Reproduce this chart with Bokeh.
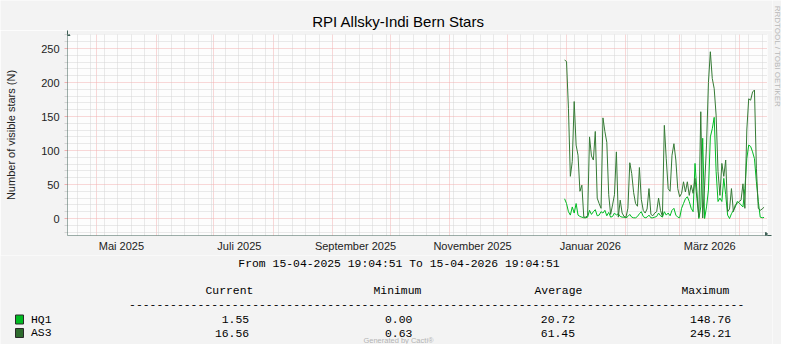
import math
import pandas as pd
from bokeh.plotting import figure
from bokeh.layouts import column, row
from bokeh.models import (ColumnDataSource, FixedTicker, Label, BoxAnnotation,
                          Arrow, NormalHead, Range1d)
from bokeh.embed import file_html
from bokeh.resources import INLINE

# ---------------- data ----------------
title_text = "RPI Allsky-Indi Bern Stars"
y_label = "Number of visible stars (N)"
range_start = "2025-04-15 19:04:51"
range_end = "2026-04-15 19:04:51"
first_day = "2025-12-31"

hq1 = [29, 22, 10, 5, 17, 8, 22, 5, 3, 2, 1, 1, 2, 12, 6, 10, 13, 4, 5, 10,
       8, 12, 4, 9, 2, 3, 8, 5, 7, 3, 2, 2, 1, 3, 6, 2, 1, 1, 3, 7,
       10, 3, 1, 2, 5, 1, 1, 2, 3, 8, 4, 2, 10, 5, 8, 4, 12, 15, 5, 2,
       1, 15, 22, 29, 32, 25, 15, 10, 81, 40, 0, 17, 118, 0, 17, 42, 120, 132, 148.76, 69,
       25, 30, 25, 59, 35, 5, 0, 7, 12, 17, 25, 23, 20, 17, 44, 88, 108, 106, 98, 88,
       54, 25, 2, 1, 1.55]
as3 = [233, 231, 162, 62, 84, 172, 108, 93, 40, 49, 2, 2, 4, 120, 92, 86, 128, 30, 22, 15,
       148, 128, 112, 35, 6, 20, 35, 98, 2, 27, 8, 3, 2, 15, 82, 66, 38, 22, 18, 75,
       28, 12, 8, 14, 44, 6, 4, 8, 10, 30, 12, 3, 137, 88, 44, 40, 93, 110, 86, 44,
       32, 37, 54, 39, 54, 34, 49, 37, 59, 29, 2, 157, 0.63, 48, 108, 200, 245.21, 206, 191, 152,
       69, 34, 81, 62, 86, 10, 14, 44, 10, 20, 22, 25, 27, 51, 15, 130, 176, 174, 186, 189,
       74, 15, 12, 14, 16.56]

x_tick_dates = ["2025-05-13 22:00", "2025-07-14 10:00", "2025-09-13 00:00",
                "2025-11-13 00:00", "2026-01-13 10:00", "2026-03-16 16:00"]
x_tick_labels = ["Mai 2025", "Juli 2025", "September 2025", "November 2025",
                 "Januar 2026", "März 2026"]
month_starts = ["2025-05-01", "2025-06-01", "2025-07-01", "2025-08-01", "2025-09-01",
                "2025-10-01", "2025-11-01", "2025-12-01", "2026-01-01", "2026-02-01",
                "2026-03-01", "2026-04-01"]
first_monday = "2025-04-21"
last_monday = "2026-04-13"
y_ticks = [0, 50, 100, 150, 200, 250]
y_minor = [-20, -10, 10, 20, 30, 40, 60, 70, 80, 90, 110, 120, 130, 140, 160, 170,
           180, 190, 210, 220, 230, 240, 260, 270]
y_min, y_max = -25, 270.6

series_names = ["HQ1", "AS3"]
series_colors = ["#00BB22", "#357A35"]
legend_colors = ["#00BB22", "#2E6B2E"]
cur_vals = ["1.55", "16.56"]
min_vals = ["0.00", "0.63"]
avg_vals = ["20.72", "61.45"]
max_vals = ["148.76", "245.21"]
col_headers = ["Current", "Minimum", "Average", "Maximum"]

assert len(hq1) == len(as3)


def ms(s):
    return int(pd.Timestamp(s).value // 10**6)


BG = "#F3F3F3"
TOTAL_W, TOTAL_H = 781, 344
STRIP_W = 9                     # right strip for the vertical watermark
LEFT_W = TOTAL_W - STRIP_W      # 772
TOP_H = 30                      # title strip (y 0..30)
MAIN_BOTTOM = 255
MAIN_H = MAIN_BOTTOM - TOP_H    # main chart (y 30..255)
LEG_H = TOTAL_H - MAIN_BOTTOM   # legend block (y 255..344)
FL, FR, FT, FB = 67, 767, 34, 235   # frame edges (page pixels)


def blank(w, h):
    f = figure(width=w, height=h, output_backend="svg", toolbar_location=None,
               x_range=Range1d(0, w), y_range=Range1d(0, h),
               x_axis_location=None, y_axis_location=None,
               min_border=0, min_border_left=0, min_border_right=0,
               min_border_top=0, min_border_bottom=0,
               background_fill_color=BG, border_fill_color=BG,
               outline_line_color=None, frame_align=False)
    f.grid.visible = False
    return f


def put(f, x, y, s, size="11px", font="Liberation Sans", align="left",
        color="#000000", angle=0.0):
    f.add_layout(Label(x=x, y=y, text=s, text_font=font, text_font_size=size,
                       text_align=align, text_baseline="middle", text_color=color,
                       angle=angle))


# ---------------- title strip ----------------
top = blank(LEFT_W, TOP_H)
put(top, 398, TOP_H - 20.5, title_text, size="15px", align="center")

# ---------------- main chart ----------------
dates = pd.date_range(first_day, periods=len(hq1), freq="D")
src = ColumnDataSource(dict(date=dates, hq1=hq1, as3=as3))

p = figure(width=LEFT_W, height=MAIN_H, output_backend="svg", toolbar_location=None,
           x_axis_type="datetime",
           x_range=Range1d(pd.Timestamp(range_start), pd.Timestamp(range_end)),
           y_range=Range1d(y_min, y_max),
           min_border_left=FL, min_border_right=LEFT_W - FR,
           min_border_top=FT - TOP_H, min_border_bottom=MAIN_BOTTOM - FB,
           background_fill_color="#FDFDFD", border_fill_color=BG,
           outline_line_color=None, frame_align=False)

p.line("date", "hq1", source=src, line_color=series_colors[0], line_width=1)
p.line("date", "as3", source=src, line_color=series_colors[1], line_width=1)

RED = "#F2B0B0"
GRAY = "#D4D4D4"

p.yaxis.ticker = FixedTicker(ticks=y_ticks, minor_ticks=y_minor)
p.yaxis.axis_line_color = None
p.yaxis.major_tick_in = 0
p.yaxis.major_tick_out = 3
p.yaxis.major_tick_line_color = RED
p.yaxis.minor_tick_in = 0
p.yaxis.minor_tick_out = 3
p.yaxis.minor_tick_line_color = GRAY
p.yaxis.major_label_standoff = 5
p.yaxis.major_label_text_font = "Liberation Sans"
p.yaxis.major_label_text_font_size = "11px"
p.yaxis.major_label_text_color = "#222222"
p.yaxis.axis_label = y_label
p.yaxis.axis_label_text_font = "Liberation Sans"
p.yaxis.axis_label_text_font_size = "11px"
p.yaxis.axis_label_text_font_style = "normal"
p.yaxis.axis_label_text_color = "#222222"
p.yaxis.axis_label_standoff = 21

x_ms = [ms(d) for d in x_tick_dates]
p.xaxis.ticker = FixedTicker(ticks=x_ms)
p.xaxis.major_label_overrides = {k: v for k, v in zip(x_ms, x_tick_labels)}
p.xaxis.axis_line_color = None
p.xaxis.major_tick_out = 0
p.xaxis.major_tick_in = 0
p.xaxis.minor_tick_out = 0
p.xaxis.minor_tick_in = 0
p.xaxis.major_label_standoff = 4
p.xaxis.major_label_text_font = "Liberation Sans"
p.xaxis.major_label_text_font_size = "11px"
p.xaxis.major_label_text_color = "#222222"

mondays = [ms(d) for d in pd.date_range(first_monday, last_monday, freq="7D")
           if d.day != 1]
p.xgrid.ticker = FixedTicker(ticks=[ms(d) for d in month_starts], minor_ticks=mondays)
for g in (p.xgrid, p.ygrid):
    g.grid_line_color = RED
    g.grid_line_dash = "1 1"
    g.grid_line_width = 1
    g.minor_grid_line_color = GRAY
    g.minor_grid_line_dash = "1 1"
    g.minor_grid_line_width = 1

AX = "#3D5F55"
p.add_layout(Arrow(x_start=-3, y_start=0, x_end=LEFT_W - 1 - FL, y_end=0,
                   start_units="screen", end_units="screen", line_color=AX, line_width=1,
                   end=NormalHead(size=6, fill_color=AX, line_color=AX)))
p.add_layout(Arrow(x_start=0, y_start=-3, x_end=0, y_end=FB - TOP_H,
                   start_units="screen", end_units="screen", line_color=AX, line_width=1,
                   end=NormalHead(size=5, fill_color=AX, line_color=AX)))

# ---------------- legend block ----------------
leg = blank(LEFT_W, LEG_H)


def ly(yref):
    return TOTAL_H - yref


MONO = "Liberation Mono"
MS = "11.4px"
put(leg, 398.5, ly(263), "From %s To %s" % (
    pd.Timestamp(range_start).strftime("%d-%m-%Y %H:%M:%S"),
    pd.Timestamp(range_end).strftime("%d-%m-%Y %H:%M:%S")),
    size=MS, font=MONO, align="center")
for h, xh in zip(col_headers, [205, 373, 534, 681]):
    put(leg, xh, ly(290.5), h, size=MS, font=MONO)
put(leg, 128.6, ly(303.5), "-" * 90, size=MS, font=MONO)

rows_y = [319, 332.5]
for i, name in enumerate(series_names):
    yy = rows_y[i]
    leg.add_layout(BoxAnnotation(left=15, right=23,
                                 top=ly(yy - 4.5), bottom=ly(yy + 4.5),
                                 fill_color=legend_colors[i], fill_alpha=1.0,
                                 line_color="#2A2A2A", line_width=1, line_alpha=1.0))
    put(leg, 30.5, ly(yy), name, size=MS, font=MONO)
    for v, xe in zip([cur_vals[i], min_vals[i], avg_vals[i], max_vals[i]],
                     [248.6, 411.8, 574.5, 730.6]):
        put(leg, xe, ly(yy), v, size=MS, font=MONO, align="right")

put(leg, 398, ly(340), "Generated by Cacti®", size="7.5px", align="center",
    color="#B4B4B4")

# ---------------- right strip ----------------
strip = blank(STRIP_W, TOTAL_H)
put(strip, 4.5, TOTAL_H - 56, "RRDTOOL / TOBI OETIKER", size="8px", align="center",
    color="#B8B8B8", angle=-math.pi / 2)

layout = row(column(top, p, leg, spacing=0), strip, spacing=0)

with open("out.html", "w", encoding="utf-8") as f:
    f.write(file_html(layout, INLINE))
